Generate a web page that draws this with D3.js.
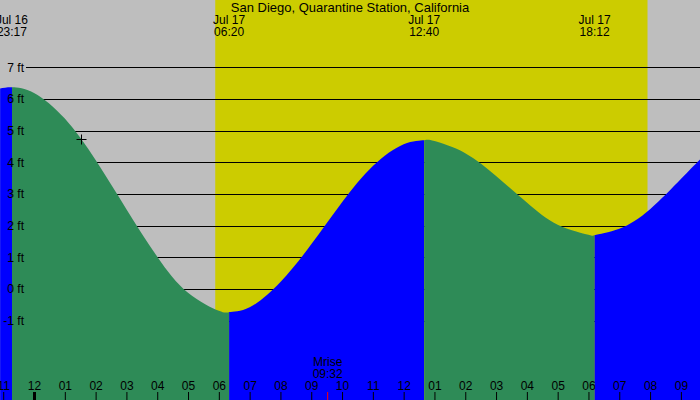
<!DOCTYPE html>
<html>
<head>
<meta charset="utf-8">
<script src="https://cdn.jsdelivr.net/npm/d3@7"></script>
<style>
  body { margin: 0; background: #fff; }
  text { font-family: "Liberation Sans", Arial, sans-serif; font-size: 12px; fill: #000; }
</style>
</head>
<body>
<div id="chart"></div>
<script>
const width = 700
const height = 400

const title = "San Diego, Quarantine Station, California"

// tide height (hourly, plus the turning points)
const tideTimes = ["07-16 22:54", "07-16 23:17", "07-17 00:00", "07-17 01:00", "07-17 02:00", "07-17 03:00",
    "07-17 04:00", "07-17 05:00", "07-17 06:00", "07-17 06:20", "07-17 07:00", "07-17 08:00", "07-17 09:00",
    "07-17 10:00", "07-17 11:00", "07-17 12:00", "07-17 12:40", "07-17 13:00", "07-17 14:00", "07-17 15:00",
    "07-17 16:00", "07-17 17:00", "07-17 18:00", "07-17 18:12", "07-17 19:00", "07-17 20:00", "07-17 21:00",
    "07-17 21:38"]
const tideFt = [6.33, 6.37, 6.19, 5.38, 4.07, 2.52,
    1.02, -0.12, -0.69, -0.73, -0.58, 0.22, 1.41,
    2.74, 3.88, 4.57, 4.70, 4.67, 4.29, 3.57,
    2.73, 2.03, 1.71, 1.70, 1.90, 2.52, 3.47,
    4.10]

// highs and lows
const extremeTimes = ["07-16 23:17", "07-17 06:20", "07-17 12:40", "07-17 18:12"]
const extremeKind = ["high", "low", "high", "low"]

const sunrise = "07-17 05:53"
const sunset = "07-17 19:55"
const moonrise = "07-17 09:32"
const marker = ["07-17 01:32", 4.75]

const ftLevels = [-1, 0, 1, 2, 3, 4, 5, 6, 7]
const domainTimes = ["07-16 22:53:45", "07-17 21:37:15"]

const parse = d3.timeParse("%m-%d %H:%M")
const parseS = d3.timeParse("%m-%d %H:%M:%S")

const tide = tideTimes.map((t, i) => ({ t: parse(t), ft: tideFt[i] }))
const extremes = extremeTimes.map((t, i) => ({ t: parse(t), kind: extremeKind[i] }))

const svg = d3.select("#chart")
    .append("svg")
    .attr("width", width)
    .attr("height", height)

var x = d3.scaleTime().domain(domainTimes.map(parseS)).range([0, width])
var y = d3.scaleLinear().domain([0, 7]).range([289, 67.3])

// night / day background
svg.append("rect").attr("width", width).attr("height", height).attr("fill", "#bebebe")
svg.append("rect")
    .attr("x", x(parse(sunrise)))
    .attr("width", x(parse(sunset)) - x(parse(sunrise)))
    .attr("height", height)
    .attr("fill", "#cccc00")

// grid
svg.append("g").selectAll("line").data(ftLevels).join("line")
    .attr("x1", 26).attr("x2", width)
    .attr("y1", d => Math.round(y(d)) + 0.5)
    .attr("y2", d => Math.round(y(d)) + 0.5)
    .attr("stroke", "#000")

// rising = blue, falling = green
const bounds = [x.domain()[0]].concat(extremes.map(d => d.t)).concat([x.domain()[1]])
const segs = d3.pairs(bounds).map((p, i) => ({
    a: p[0], b: p[1],
    color: i == 0 ? "#0000ff" : (extremes[i - 1].kind == "high" ? "#2e8b57" : "#0000ff")
}))

const defs = svg.append("defs")
defs.selectAll("clipPath").data(segs).join("clipPath")
    .attr("id", (d, i) => "seg" + i)
    .append("rect")
    .attr("x", d => x(d.a))
    .attr("width", d => x(d.b) - x(d.a))
    .attr("y", 0)
    .attr("height", height)

const area = d3.area()
    .x(d => x(d.t))
    .y0(height)
    .y1(d => y(d.ft))
    .curve(d3.curveNatural)

svg.append("g").selectAll("path").data(segs).join("path")
    .attr("d", area(tide))
    .attr("fill", d => d.color)
    .attr("clip-path", (d, i) => `url(#seg${i})`)

// ft labels
svg.append("g").selectAll("text").data(ftLevels).join("text")
    .attr("x", 24)
    .attr("y", d => y(d))
    .attr("dy", "0.35em")
    .attr("text-anchor", "end")
    .text(d => d + " ft")

// hour axis
const xAxis = d3.axisTop(x)
    .ticks(d3.timeHour.every(1))
    .tickFormat(d3.timeFormat("%I"))
    .tickSize(8)
    .tickPadding(2)

const xAxisGroup = svg.append("g")
    .attr("transform", `translate(0, ${height})`)
    .call(xAxis)
xAxisGroup.select(".domain").remove()
xAxisGroup.selectAll("text").attr("font-size", null).attr("font-family", null)
xAxisGroup.selectAll(".tick line")
    .attr("stroke", "#000")
    .attr("stroke-width", d => d.getHours() == 0 ? 3 : 1)

// moonrise
const mr = parse(moonrise)
svg.append("line")
    .attr("x1", x(mr)).attr("x2", x(mr))
    .attr("y1", 392).attr("y2", height)
    .attr("stroke", "red")
svg.append("text").attr("x", x(mr)).attr("y", 366).attr("text-anchor", "middle").text("Mrise")
svg.append("text").attr("x", x(mr)).attr("y", 378).attr("text-anchor", "middle").text(d3.timeFormat("%H:%M")(mr))

// high / low labels
const exLabels = svg.append("g").selectAll("g").data(extremes).join("g")
exLabels.append("text")
    .attr("x", d => x(d.t)).attr("y", 24)
    .attr("text-anchor", "middle")
    .text(d => d3.timeFormat("%b %d")(d.t))
exLabels.append("text")
    .attr("x", d => x(d.t)).attr("y", 36)
    .attr("text-anchor", "middle")
    .text(d => d3.timeFormat("%H:%M")(d.t))

svg.append("text")
    .attr("x", width / 2)
    .attr("y", 12)
    .attr("text-anchor", "middle")
    .style("font-size", "13px")
    .text(title)

// cross marker
const mx = Math.round(x(parse(marker[0]))) + 0.5
const my = Math.round(y(marker[1])) + 0.5
svg.append("path")
    .attr("d", `M${mx - 5},${my}H${mx + 5}M${mx},${my - 5}V${my + 5}`)
    .attr("stroke", "#000")
</script>
</body>
</html>
